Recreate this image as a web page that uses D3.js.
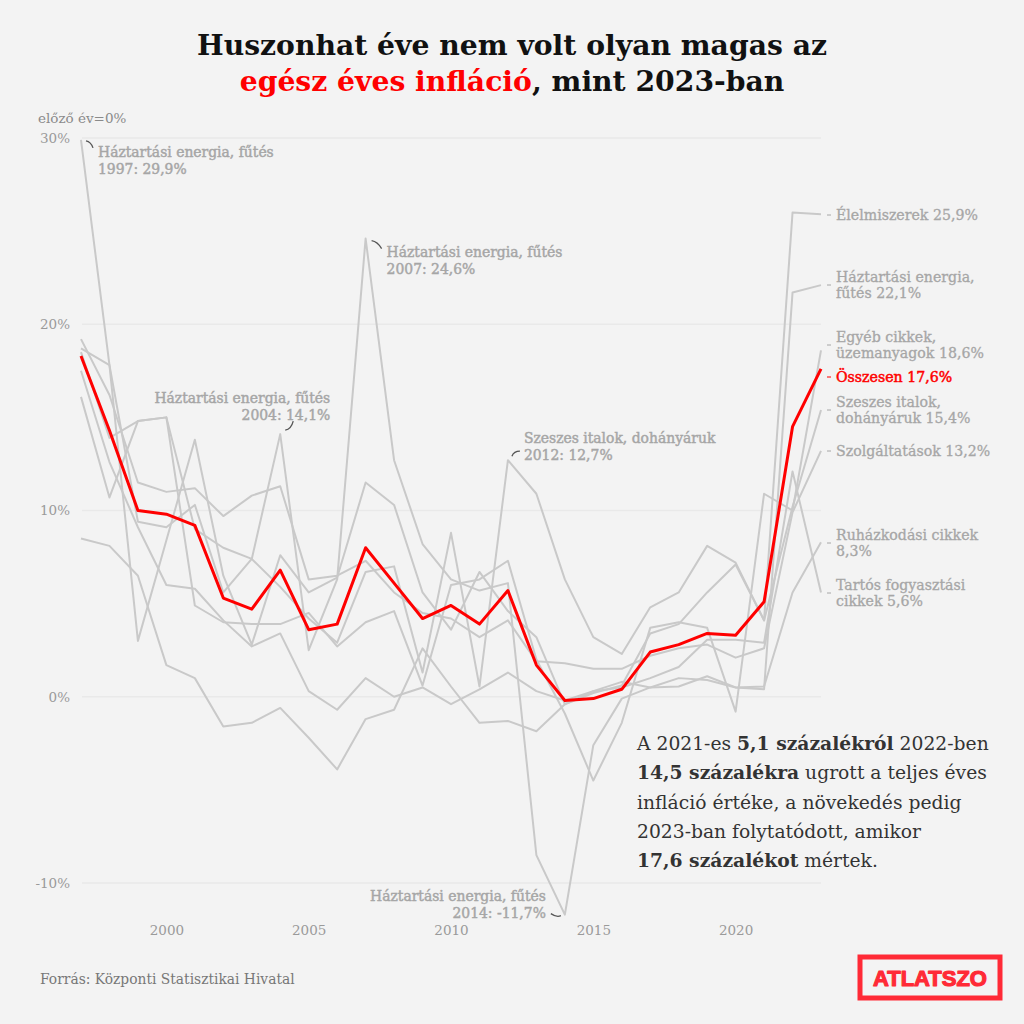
<!DOCTYPE html>
<html><head><meta charset="utf-8">
<script src="https://cdn.jsdelivr.net/npm/d3@7"></script>
<style>
body{margin:0;background:#f3f3f3;}
svg{display:block;}
</style>
</head><body>
<svg id="c" width="1024" height="1024" font-family="DejaVu Serif, serif"></svg>
<script>
// ---------- DATA ----------
const years = d3.range(1997, 2024);
const total    = [18.3,14.3,10.0,9.8,9.2,5.3,4.7,6.8,3.6,3.9,8.0,6.1,4.2,4.9,3.9,5.7,1.7,-0.2,-0.1,0.4,2.4,2.8,3.4,3.3,5.1,14.5,17.6];
const food     = [18.7,17.8,3.0,8.4,13.8,6.5,2.8,7.6,5.6,6.4,11.5,10.3,5.6,3.6,6.7,4.6,3.2,-0.4,0.2,0.6,3.4,3.9,5.6,7.1,4.1,26.0,25.9];
const energy   = [29.9,17.8,9.4,9.1,10.3,5.6,7.4,14.1,2.5,6.3,24.6,12.7,8.2,6.3,5.7,6.1,-8.5,-11.7,-2.6,-0.1,0.5,1.0,0.9,0.5,0.4,21.7,22.1];
const other    = [16.1,10.7,14.8,15.0,4.9,4.0,3.9,3.9,4.5,2.7,4.0,4.6,0.6,6.0,6.3,7.3,2.0,-0.9,-4.5,-1.4,3.7,4.0,3.7,-0.8,10.9,10.0,18.6];
const alcohol  = [18.5,13.9,14.8,15.0,9.0,8.0,7.4,5.9,4.2,2.9,6.7,7.0,1.3,8.8,0.55,12.7,10.9,6.3,3.2,2.3,4.8,5.6,8.1,7.2,4.1,10.2,15.4];
const services = [19.2,16.2,11.5,11.0,11.2,9.7,10.8,11.3,6.3,6.5,7.3,5.6,4.5,4.2,3.2,4.1,1.9,1.8,1.5,1.5,2.2,2.6,2.8,2.1,2.6,9.9,13.2];
const clothing = [17.5,12.6,9.1,6.0,5.8,4.1,2.7,3.4,0.3,-0.7,1.0,0.0,0.5,-0.4,0.4,1.3,0.3,-0.2,0.3,0.8,0.5,0.55,1.1,0.5,0.55,5.6,8.3];
const durables = [8.5,8.1,6.5,1.7,1.0,-1.6,-1.4,-0.6,-2.2,-3.9,-1.2,-0.7,2.6,0.55,-1.4,-1.3,-1.85,-0.4,0.3,0.5,1.0,1.6,3.06,3.06,2.9,12.1,5.6];

const grayNames  = ["Élelmiszerek","Háztartási energia, fűtés","Egyéb cikkek, üzemanyagok","Szeszes italok, dohányáruk","Szolgáltatások","Ruházkodási cikkek","Tartós fogyasztási cikkek"];
const grayValues = [food, energy, other, alcohol, services, clothing, durables];
const endLabels  = [["Élelmiszerek 25,9%"],["Háztartási energia,","fűtés 22,1%"],["Egyéb cikkek,","üzemanyagok 18,6%"],["Szeszes italok,","dohányáruk 15,4%"],["Szolgáltatások 13,2%"],["Ruházkodási cikkek","8,3%"],["Tartós fogyasztási","cikkek 5,6%"]];
const totalLabel = "Összesen 17,6%";
const yTicks = [-10,0,10,20,30];
const xTicks = [2000,2005,2010,2015,2020];
const annotations = [
  {year:1997, value:29.9, lines:["Háztartási energia, fűtés","1997: 29,9%"]},
  {year:2004, value:14.1, lines:["Háztartási energia, fűtés","2004: 14,1%"]},
  {year:2007, value:24.6, lines:["Háztartási energia, fűtés","2007: 24,6%"]},
  {year:2012, value:12.7, lines:["Szeszes italok, dohányáruk","2012: 12,7%"]},
  {year:2014, value:-11.7, lines:["Háztartási energia, fűtés","2014: -11,7%"]}
];

// ---------- LAYOUT ----------
const svg = d3.select("#c");
const W = 1024, H = 1024;
svg.append("rect").attr("width",W).attr("height",H).attr("fill","#f3f3f3");
const x = d3.scaleLinear().domain([1997,2023]).range([81,821]);
const y = d3.scaleLinear().domain([-10,30]).range([883,138]);
const GRAY = "#c9c9c9", LABEL = "#a6a6a6", RED = "#ff0000";

function fit(sel, target){
  const n = sel.node(); const w = n.getComputedTextLength();
  const fs = parseFloat(sel.attr("font-size"));
  const nf = fs*target/w; sel.attr("font-size", nf); return nf;
}

// gridlines
svg.append("g").selectAll("line").data(yTicks).join("line")
  .attr("x1",82).attr("x2",821).attr("y1",d=>y(d)).attr("y2",d=>y(d))
  .attr("stroke","#e9e9e9").attr("stroke-width",1.5);

// y axis
const yAxis = svg.append("g").attr("transform","translate(70,0)")
  .call(d3.axisLeft(y).tickValues(yTicks).tickSize(0).tickPadding(0).tickFormat(d=>d+"%"));
yAxis.select(".domain").remove();
yAxis.selectAll("text").style("font-family","DejaVu Serif").attr("font-size",13.5).attr("fill","#9a9a9a");
svg.append("text").attr("x",38).attr("y",123).attr("font-size",13.5).attr("fill","#8a8a8a").text("előző év=0%");

// x axis
const xAxis = svg.append("g").attr("transform","translate(0,925)")
  .call(d3.axisBottom(x).tickValues(xTicks).tickSize(0).tickPadding(0).tickFormat(d3.format("d")));
xAxis.select(".domain").remove();
xAxis.selectAll("text").style("font-family","DejaVu Serif").attr("font-size",13.5).attr("fill","#9a9a9a");

// lines
const line = d3.line().x((d,i)=>x(years[i])).y(d=>y(d));
svg.append("g").selectAll("path").data(grayValues).join("path")
  .attr("d",line).attr("fill","none").attr("stroke",GRAY).attr("stroke-width",2).attr("stroke-linejoin","round");
svg.append("path").datum(total).attr("d",line).attr("fill","none").attr("stroke",RED).attr("stroke-width",3).attr("stroke-linejoin","round");

// end labels
const labelY = [215, 285, 345, 377, 410, 451, 543, 593];
const lg = svg.append("g");
let labFs = null;
const allLabels = endLabels.slice(0,3).concat([[totalLabel]]).concat(endLabels.slice(3));
allLabels.forEach((ls,i)=>{
  const cy = labelY[i];
  const red = (i===3);
  const n = ls.length;
  lg.append("line").attr("x1",827).attr("x2",831).attr("y1",cy).attr("y2",cy)
    .attr("stroke",red?RED:LABEL).attr("stroke-width",1);
  ls.forEach((t,j)=>{
    const ty = cy + (j-(n-1)/2)*16 + 5;
    const te = lg.append("text").attr("x",836).attr("y",ty).attr("font-size",14)
      .attr("fill",red?RED:LABEL).attr("stroke",red?RED:LABEL).attr("stroke-width",red?0.5:0.3)
      .text(t);
    if(i===0 && labFs===null){ labFs = fit(te,142); }
  });
});
lg.selectAll("text").attr("font-size",labFs);

// annotations
const ag = svg.append("g");
const annFsRef = ag.append("text").attr("font-size",14).text("Háztartási energia, fűtés");
const annFs = fit(annFsRef,176); annFsRef.remove();
const annLayout = [
  {dx:17, dy:12, anchor:"start", arc:[[5,1],[12,8]], q:[10,2]},
  {dx:50, dy:-36, anchor:"end", arc:[[5,-4],[13,-13]], q:[11,-5]},
  {dx:21, dy:13, anchor:"start", arc:[[6,2],[16,10]], q:[12,3]},
  {dx:16, dy:-22, anchor:"start", arc:[[4,-4],[12,-9]], q:[6,-9]},
  {dx:-19, dy:-19, anchor:"end", arc:[[-4,1],[-14,-1]], q:[-8,3]}
];
annotations.forEach((a,i)=>{
  const px = x(a.year), py = y(a.value), L = annLayout[i];
  a.lines.forEach((t,j)=>{
    ag.append("text").attr("x",px+L.dx).attr("y",py+L.dy+j*17+5).attr("text-anchor",L.anchor)
      .attr("font-size",annFs).attr("fill",LABEL).attr("stroke",LABEL).attr("stroke-width",0.45).text(t);
  });
  ag.append("path").attr("d",`M${px+L.arc[0][0]},${py+L.arc[0][1]} Q${px+L.q[0]},${py+L.q[1]} ${px+L.arc[1][0]},${py+L.arc[1][1]}`)
    .attr("fill","none").attr("stroke","#555").attr("stroke-width",1.3);
});

// title
const t1 = svg.append("text").attr("x",512).attr("y",55).attr("text-anchor","middle")
  .attr("font-size",30).attr("font-weight","bold").attr("fill","#111").text("Huszonhat éve nem volt olyan magas az");
const tfs = fit(t1,630);
const t2 = svg.append("text").attr("x",512).attr("y",91).attr("text-anchor","middle")
  .attr("font-size",tfs).attr("font-weight","bold").attr("fill","#111");
t2.append("tspan").attr("fill","#ff0000").text("egész éves infláció");
t2.append("tspan").text(", mint 2023-ban");

// body text
const body = [
  [["A 2021-es ",false],["5,1 százalékról",true],[" 2022-ben",false]],
  [["14,5 százalékra",true],[" ugrott a teljes éves",false]],
  [["infláció értéke, a növekedés pedig",false]],
  [["2023-ban folytatódott, amikor",false]],
  [["17,6 százalékot",true],[" mértek.",false]]
];
const bg = svg.append("g");
let bfs = null;
body.forEach((ln,i)=>{
  const te = bg.append("text").attr("x",637).attr("y",750+i*29.3).attr("font-size",19).attr("fill","#333");
  ln.forEach(([s,b])=>te.append("tspan").attr("font-weight",b?"bold":"normal").text(s));
  if(i===0) bfs = fit(te,352);
});
bg.selectAll("text").attr("font-size",bfs);

// source
const src = svg.append("text").attr("x",40).attr("y",984).attr("font-size",13).attr("fill","#777").text("Forrás: Központi Statisztikai Hivatal");
fit(src,255);

// logo
svg.append("rect").attr("x",860).attr("y",957).attr("width",140).attr("height",41)
  .attr("fill","none").attr("stroke","#ff2a36").attr("stroke-width",5);
const lt = svg.append("text").attr("x",930).attr("y",986).attr("text-anchor","middle")
  .style("font-family","'Liberation Sans', Arial, sans-serif").attr("font-weight","bold")
  .attr("font-size",22).attr("fill","#ff2a36").attr("stroke","#ff2a36").attr("stroke-width",1.2)
  .attr("stroke-linejoin","round").text("ATLATSZO");
fit(lt,114);
</script>
</body></html>
